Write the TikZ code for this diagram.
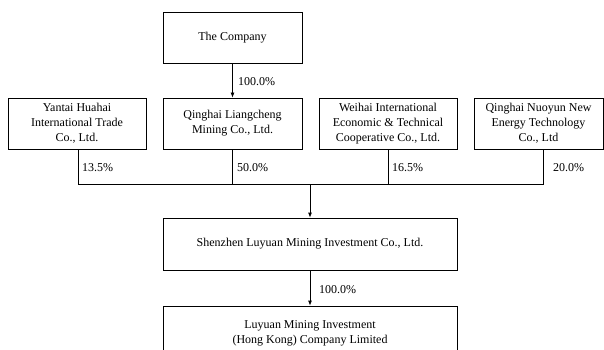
\documentclass[tikz,border=0pt]{standalone}
\usepackage{fontspec}
\setmainfont{Liberation Serif}
\usetikzlibrary{arrows.meta}
\begin{document}
\begin{tikzpicture}[x=1pt,y=-1pt,
  box/.style={draw,line width=0.8pt,inner sep=0pt,align=center,font=\fontsize{12}{15}\selectfont},
  pct/.style={anchor=west,inner sep=0pt,font=\fontsize{12}{15}\selectfont},
  conn/.style={line width=0.8pt},
  arr/.style={line width=0.8pt,-{Latex[length=5pt,width=4pt]}}]
\useasboundingbox (0,0) rectangle (604,350);
\node[box,minimum width=139pt,minimum height=51pt] (comp) at (232.5,37.5) {The Company};
\node[box,minimum width=138pt,minimum height=51pt] (b1) at (77,123.5) {Yantai Huahai\\International Trade\\Co., Ltd.};
\node[box,minimum width=139pt,minimum height=51pt] (b2) at (232.5,123.5) {Qinghai Liangcheng\\Mining Co., Ltd.};
\node[box,minimum width=138pt,minimum height=51pt] (b3) at (388,123.5) {Weihai International\\Economic \& Technical\\Cooperative Co., Ltd.};
\node[box,minimum width=129pt,minimum height=51pt] (b4) at (538.5,123.5) {Qinghai Nuoyun New\\Energy Technology\\Co., Ltd};
\node[box,minimum width=294pt,minimum height=52pt] (sz) at (310,244) {Shenzhen Luyuan Mining Investment Co., Ltd.};
\node[box,minimum width=294pt,minimum height=54pt] (ly) at (310,333) {Luyuan Mining Investment\\(Hong Kong) Company Limited};
\coordinate (j1) at (78,184);
\coordinate (j2) at (232.5,184);
\coordinate (j3) at (388,184);
\coordinate (j4) at (543,184);
\coordinate (jm) at (310,184);
\coordinate (b4s) at (543,149);
\coordinate (b1s) at (78,149);
\draw[arr] (comp) -- (b2);
\draw[conn] (b1s) -- (j1) -- (j4) -- (b4s);
\draw[conn] (b2.south) -- (j2);
\draw[conn] (b3.south) -- (j3);
\draw[arr] (jm) -- (sz.north);
\draw[arr] (sz) -- (ly);
\node[pct] (p0) at (238,82) {100.0\%};
\node[pct] (p1) at (82,168) {13.5\%};
\node[pct] (p2) at (237,168) {50.0\%};
\node[pct] (p3) at (392,168) {16.5\%};
\node[pct] (p4) at (553,168) {20.0\%};
\node[pct] (p5) at (319,290) {100.0\%};
\end{tikzpicture}
\end{document}
